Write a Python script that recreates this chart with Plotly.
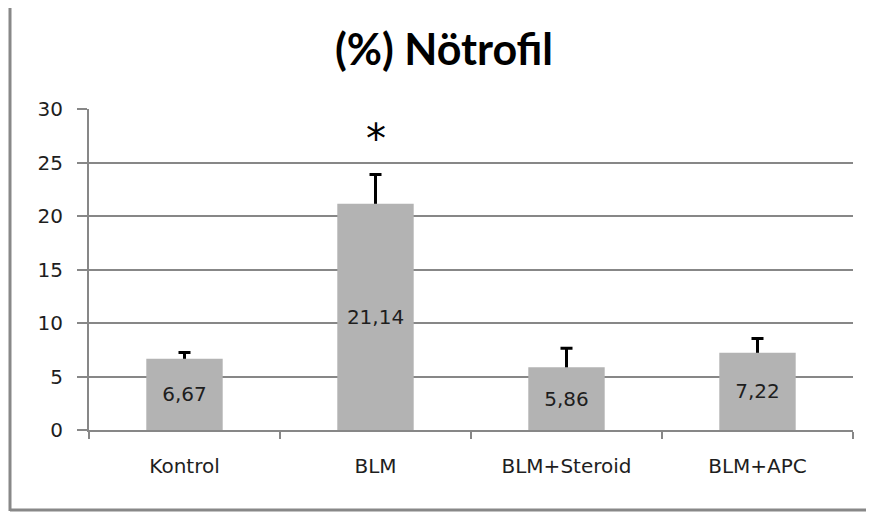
import plotly.graph_objects as go

categories = ["Kontrol", "BLM", "BLM+Steroid", "BLM+APC"]
values = [6.67, 21.14, 5.86, 7.22]
errors = [0.58, 2.75, 1.77, 1.33]
y_ticks = [0, 5, 10, 15, 20, 25, 30]
title_text = "(%) Nötrofil"
sig_marker = "*"

FONT = "DejaVu Sans"
TITLE_FONT = "Lato"
GRID = "#878787"
TXT = "#1e1e1e"

# page is offset by 8px (body margin); figure sized accordingly
W, H = 866, 508
L, R, T, B = 81, 21, 101, 86
PW, PH = W - L - R, H - T - B

def px_x(x):
    return (x - L) / PW

def px_y(y):
    return (H - B - y) / PH

sink = 0.2  # hide lower cap of error bar under the bar top
fig = go.Figure()
fig.add_trace(go.Bar(
    x=categories, y=[v - sink for v in values], width=0.4,
    marker=dict(color="rgba(0,0,0,0)", line=dict(width=0)),
    error_y=dict(type="data", array=[e + sink for e in errors], arrayminus=[0]*len(errors),
                 symmetric=False, color="black", thickness=3, width=6),
    hoverinfo="skip",
))
fig.add_trace(go.Bar(
    x=categories, y=values, width=0.4,
    marker=dict(color="#b3b3b3", line=dict(width=0)),
    texttemplate="%{y:.2f}", textposition="inside", insidetextanchor="middle",
    textangle=0, textfont=dict(family=FONT, size=20, color=TXT),
))

# white box behind the significance marker
fig.add_shape(type="rect", xref="paper", yref="paper", x0=px_x(324), x1=px_x(409),
              y0=px_y(147), y1=px_y(89),
              fillcolor="white", line=dict(width=0), layer="above")
fig.add_annotation(x="BLM", y=27.2, xref="x", yref="y", text=sig_marker, showarrow=False,
                   font=dict(family=FONT, size=40, color="black"), yanchor="middle")

# outer frame (left and bottom edges)
fig.add_shape(type="line", xref="paper", yref="paper", x0=px_x(2), x1=px_x(2), y0=px_y(503), y1=px_y(-10),
              line=dict(color="#888888", width=3))
fig.add_shape(type="line", xref="paper", yref="paper", x0=px_x(2), x1=px_x(870), y0=px_y(502), y1=px_y(502),
              line=dict(color="#888888", width=3))

fig.update_layout(
    width=W, height=H,
    margin=dict(l=L, r=R, t=T, b=B),
    paper_bgcolor="white", plot_bgcolor="white",
    separators=",.",
    barmode="overlay",
    showlegend=False,
    title=dict(text="<b>" + title_text + "</b>", x=(444 - 8) / W, xref="container", xanchor="center",
               y=1 - 42 / H, yref="container", yanchor="middle",
               font=dict(family=TITLE_FONT, size=43, color="black")),
    font=dict(family=FONT, size=20, color=TXT),
)
fig.update_xaxes(
    type="category", tickson="boundaries", ticks="outside", ticklen=7, tickwidth=2, tickcolor=GRID,
    showline=True, linecolor=GRID, linewidth=2, showgrid=False,
    tickfont=dict(family=FONT, size=20, color=TXT), ticklabelstandoff=17,
)
fig.update_yaxes(
    range=[0, 30], tickvals=y_ticks, ticks="outside", ticklen=10, tickwidth=2, tickcolor=GRID,
    showline=True, linecolor=GRID, linewidth=2,
    showgrid=True, gridcolor=GRID, gridwidth=1.5, zeroline=False,
    tickfont=dict(family=FONT, size=20, color=TXT), ticklabelstandoff=10,
)

fig.write_html("out.html")
